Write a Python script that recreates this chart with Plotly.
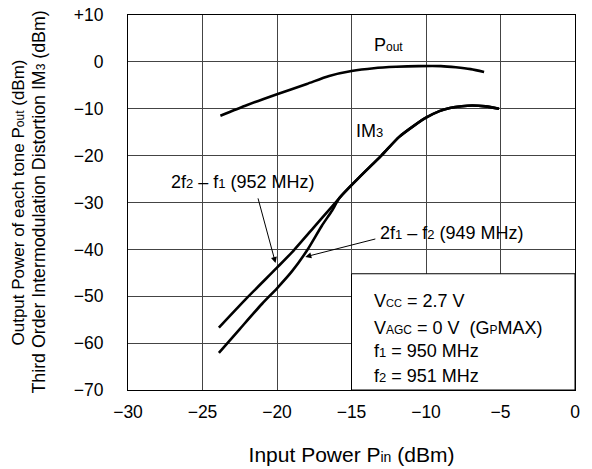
import plotly.graph_objects as go

# ---- data ----
pin_pout = [-23.8, -22, -20, -18, -16.5, -15, -13.5, -12, -10.5, -9, -8, -7, -6.1]
pout = [-11.5, -9.2, -6.9, -4.7, -3.0, -1.95, -1.35, -1.05, -0.9, -0.9, -1.15, -1.55, -2.15]

# shared upper part of the IM3 curves (after the two branches merge)
pin_im3_hi = [-15.8, -14.5, -13.0, -11.8, -10.8, -10.0, -9.1, -8.4, -7.6, -6.9, -6.0, -5.1]
im3_hi = [-29.0, -24.7, -20.0, -16.0, -13.6, -11.9, -10.5, -9.85, -9.45, -9.3, -9.5, -10.0]

# 2f2 - f1 (952 MHz) branch
pin_952 = [-23.9, -22.0, -20.0, -18.9, -17.5, -16.4]
im3_952 = [-56.7, -50.3, -43.9, -40.3, -35.2, -31.2]

# 2f1 - f2 (949 MHz) branch
pin_949 = [-23.9, -22.5, -21.0, -20.0, -19.0, -18.0, -17.0, -16.3]
im3_949 = [-62.1, -57.0, -51.6, -48.3, -44.7, -40.3, -35.0, -31.7]

x_ticks = [-30, -25, -20, -15, -10, -5, 0]
x_ticktext = ["\u221230", "\u221225", "\u221220", "\u221215", "\u221210", "\u22125", "0"]
y_ticks = [10, 0, -10, -20, -30, -40, -50, -60, -70]
y_ticktext = ["+10", "0", "\u221210", "\u221220", "\u221230", "\u221240", "\u221250", "\u221260", "\u221270"]

FONT = "Arial, Liberation Sans, sans-serif"
FS_TICK = 17.5
FS_ANN = 18


def small(s, size=12):
    return f'<span style="font-size:{size}px">{s}</span>'


W, H = 592, 469
ML, MR, MT, MB = 128, 17, 15, 79
pw = W - ML - MR

fig = go.Figure()
line = dict(color="black", width=2.6, shape="spline", smoothing=0.7)
fig.add_trace(go.Scatter(x=pin_pout, y=pout, mode="lines", line=line, hoverinfo="skip"))
fig.add_trace(go.Scatter(x=pin_952 + pin_im3_hi, y=im3_952 + im3_hi, mode="lines", line=line, hoverinfo="skip"))
fig.add_trace(go.Scatter(x=pin_949 + pin_im3_hi, y=im3_949 + im3_hi, mode="lines", line=line, hoverinfo="skip"))

fig.add_shape(type="rect", x0=-15, x1=0, y0=-70, y1=-45.2, xref="x", yref="y",
              fillcolor="white", line=dict(color="black", width=1), layer="above")

ann = []
ann.append(dict(x=-13.6, y=3.6, xref="x", yref="y", xanchor="left", yanchor="middle",
                text="P" + small("out", 12), showarrow=False))
ann.append(dict(x=-14.8, y=-14.8, xref="x", yref="y", xanchor="left", yanchor="middle",
                text="IM" + small("3", 13), showarrow=False))
ann.append(dict(x=-20.1, y=-42.9, ax=-21.3, ay=-28.8, xref="x", yref="y", axref="x", ayref="y",
                text="", showarrow=True, arrowhead=2, arrowsize=1.2, arrowwidth=1, arrowcolor="black"))
ann.append(dict(x=-22.3, y=-25.6, xref="x", yref="y", xanchor="center", yanchor="middle",
                text="2f" + small("2", 13) + " \u2013 f" + small("1", 13) + " (952 MHz)", showarrow=False))
ann.append(dict(x=-18.1, y=-41.6, ax=-13.3, ay=-37.7, xref="x", yref="y", axref="x", ayref="y",
                text="", showarrow=True, arrowhead=2, arrowsize=1.2, arrowwidth=1, arrowcolor="black"))
ann.append(dict(x=-13.25, y=-36.6, xref="x", yref="y", xanchor="left", yanchor="middle",
                text="2f" + small("1", 13) + " \u2013 f" + small("2", 13) + " (949 MHz)", showarrow=False))
box_lines = [
    "V" + small("CC", 11) + " = 2.7 V",
    "V" + small("AGC", 12) + " = 0 V  (G" + small("P", 12) + "MAX)",
    "f" + small("1", 13) + " = 950 MHz",
    "f" + small("2", 13) + " = 951 MHz",
]
box_y = [-51.0, -56.7, -61.7, -67.0]
for t, yy in zip(box_lines, box_y):
    ann.append(dict(x=-13.65, y=yy, xref="x", yref="y", xanchor="left", yanchor="middle",
                    text=t, showarrow=False))
for a in ann:
    a["font"] = dict(size=FS_ANN, family=FONT, color="black")

# two-line y-axis title (pixel x positions converted to paper coords)
ytitles = [
    ("Output Power of each tone P" + small("out", 12) + " (dBm)", 18, 17),
    ("Third Order Intermodulation Distortion IM" + small("3", 12) + " (dBm)", 38, 17.8),
]
for t, px, fs in ytitles:
    ann.append(dict(x=(px - ML) / pw, y=0.5, xref="paper", yref="paper", text=t,
                    textangle=-90, showarrow=False, xanchor="center", yanchor="middle",
                    font=dict(size=fs, family=FONT, color="black")))

fig.update_layout(
    width=W, height=H,
    margin=dict(l=ML, r=MR, t=MT, b=MB, autoexpand=False),
    paper_bgcolor="white", plot_bgcolor="white",
    showlegend=False,
    hovermode=False,
    font=dict(family=FONT, size=FS_TICK, color="black"),
    annotations=ann,
    xaxis=dict(range=[-30, 0], tickvals=x_ticks, ticktext=x_ticktext, showgrid=True,
               gridcolor="#444", gridwidth=1, showline=True, linecolor="black", linewidth=1,
               mirror=True, zeroline=False, ticks="", automargin=False,
               title=dict(text="Input Power P" + small("in", 14) + " (dBm)", standoff=26,
                          font=dict(size=21))),
    yaxis=dict(range=[-70, 10], tickvals=y_ticks, ticktext=y_ticktext, showgrid=True,
               gridcolor="#444", gridwidth=1, showline=True, linecolor="black", linewidth=1,
               mirror=True, zeroline=False, ticks="", automargin=False),
)
fig.update_xaxes(ticklabelstandoff=6)
fig.update_yaxes(ticklabelstandoff=20)
fig.write_html("out.html", config={"displayModeBar": False, "staticPlot": True},
               post_script="document.body.style.margin='0';")
